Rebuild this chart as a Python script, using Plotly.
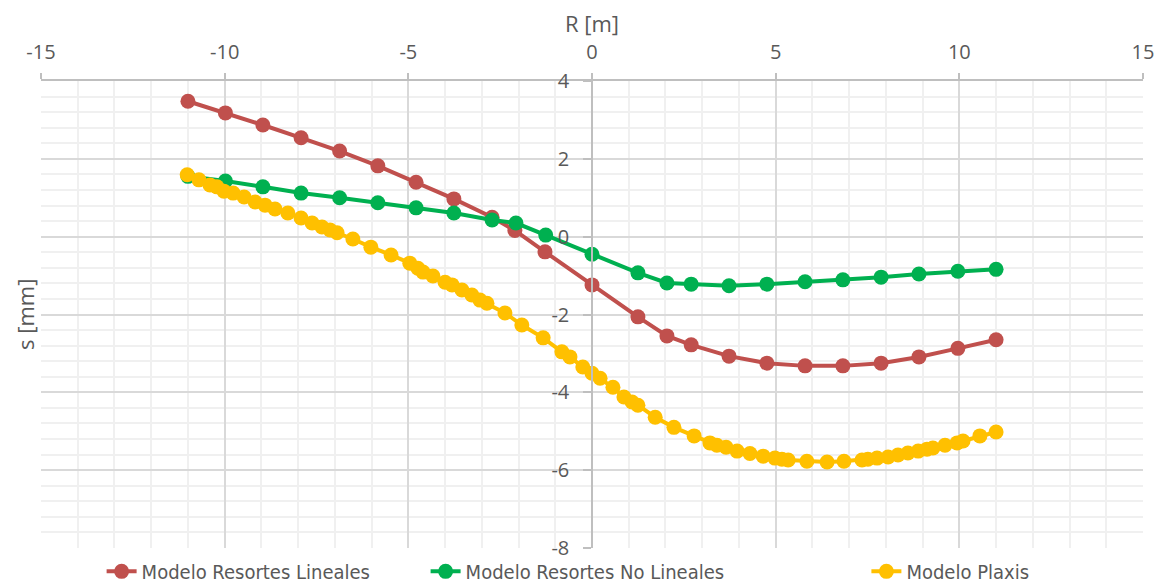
import plotly.graph_objects as go

# --- data ---
x_lin = [-11.0, -9.98, -8.96, -7.92, -6.87, -5.83, -4.79, -3.76, -2.72, -2.10, -1.28, 0.0,
         1.25, 2.04, 2.70, 3.73, 4.76, 5.80, 6.83, 7.87, 8.90, 9.96, 11.0]
y_lin = [3.48, 3.18, 2.87, 2.54, 2.20, 1.82, 1.40, 0.97, 0.50, 0.16, -0.39, -1.24,
         -2.06, -2.55, -2.78, -3.07, -3.25, -3.32, -3.32, -3.25, -3.09, -2.87, -2.65]

x_nolin = [-11.0, -9.98, -8.96, -7.92, -6.87, -5.83, -4.79, -3.76, -2.72, -2.07, -1.26, 0.0,
           1.25, 2.04, 2.70, 3.73, 4.76, 5.80, 6.83, 7.87, 8.90, 9.96, 11.0]
y_nolin = [1.55, 1.43, 1.28, 1.12, 1.00, 0.87, 0.74, 0.61, 0.43, 0.35, 0.04, -0.45,
           -0.93, -1.19, -1.22, -1.26, -1.22, -1.16, -1.11, -1.04, -0.96, -0.89, -0.84]

x_plaxis = [-11.02, -10.70, -10.40, -10.21, -10.02, -9.77, -9.47, -9.17, -8.90, -8.63, -8.28,
            -7.92, -7.62, -7.35, -7.13, -6.94, -6.51, -6.02, -5.47, -4.96, -4.74, -4.60, -4.33,
            -4.00, -3.81, -3.54, -3.27, -3.05, -2.86, -2.37, -1.91, -1.33, -0.82, -0.60, -0.25,
            0.00, 0.22, 0.57, 0.87, 1.09, 1.25, 1.72, 2.23, 2.78, 3.21, 3.40, 3.65, 3.95, 4.30,
            4.66, 4.98, 5.17, 5.34, 5.85, 6.40, 6.86, 7.35, 7.51, 7.76, 8.06, 8.33, 8.60, 8.88,
            9.12, 9.28, 9.61, 9.94, 10.10, 10.56, 11.0]
y_plaxis = [1.59, 1.46, 1.33, 1.28, 1.17, 1.12, 1.02, 0.89, 0.81, 0.71, 0.61,
            0.48, 0.35, 0.25, 0.17, 0.10, -0.06, -0.27, -0.47, -0.68, -0.81, -0.91, -1.01,
            -1.17, -1.24, -1.37, -1.50, -1.63, -1.71, -1.96, -2.27, -2.60, -2.96, -3.09, -3.35,
            -3.51, -3.64, -3.87, -4.12, -4.25, -4.33, -4.64, -4.90, -5.12, -5.30, -5.36, -5.41,
            -5.51, -5.57, -5.64, -5.69, -5.72, -5.74, -5.77, -5.79, -5.77, -5.74, -5.72, -5.69,
            -5.66, -5.61, -5.56, -5.51, -5.46, -5.43, -5.36, -5.30, -5.25, -5.12, -5.02]

x_tickvals = [-15, -10, -5, 0, 5, 10, 15]
x_ticktext = ["-15", "-10", "-5", "0", "5", "10", "15"]
y_tickvals = [4, 2, 0, -2, -4, -6, -8]
y_ticktext = ["4", "2", "0", "-2", "-4", "-6", "-8"]

names = ["Modelo Resortes Lineales", "Modelo Resortes No Lineales", "Modelo Plaxis"]
colors = ["#C0504D", "#00B050", "#FFC000"]

TICK_FONT = dict(family="Open Sans, Calibri, sans-serif", size=20, color="#595959")
LEG_FONT = dict(family="DejaVu Sans Condensed, sans-serif", size=20, color="#595959")

fig = go.Figure()
series = [(x_lin, y_lin), (x_nolin, y_nolin), (x_plaxis, y_plaxis)]
legends = ["legend", "legend2", "legend3"]
for (xs, ys), nm, c, lg in zip(series, names, colors, legends):
    fig.add_trace(go.Scatter(x=xs, y=ys, mode="lines+markers", name=nm,
                             line=dict(color=c, width=4),
                             marker=dict(color=c, size=15),
                             legend=lg))

leg_common = dict(orientation="h", yanchor="middle", y=-0.05, xanchor="left",
                  font=LEG_FONT, bgcolor="rgba(0,0,0,0)", borderwidth=0)

# page body has an 8px default margin; figure sized so the page is 1164x588
fig.update_layout(
    width=1156, height=580,
    margin=dict(l=33, r=21, t=73, b=40, autoexpand=False),
    paper_bgcolor="white", plot_bgcolor="white",
    showlegend=True,
    legend=dict(x=0.055, **leg_common),
    legend2=dict(x=0.349, **leg_common),
    legend3=dict(x=0.749, **leg_common),
    xaxis=dict(
        range=[-15, 15], side="top", tickmode="array",
        tickvals=x_tickvals, ticktext=x_ticktext,
        showgrid=True, gridcolor="#D9D9D9", gridwidth=1.5,
        minor=dict(dtick=1, tick0=0, showgrid=True, gridcolor="#F0F0F0", gridwidth=1.5),
        showline=True, linecolor="#BFBFBF", linewidth=1.5,
        ticks="outside", ticklen=6, tickcolor="#BFBFBF", tickwidth=1.5,
        ticklabelstandoff=6,
        zeroline=False, tickfont=TICK_FONT, automargin=False,
        title=dict(text="R [m]", font=dict(family="Open Sans, sans-serif", size=22, color="#595959"),
                   standoff=6),
    ),
    yaxis=dict(
        range=[-8, 4], tickmode="array",
        tickvals=y_tickvals, ticktext=y_ticktext,
        anchor="free", position=0.5,
        showgrid=True, gridcolor="#D9D9D9", gridwidth=1.5,
        minor=dict(dtick=0.4, tick0=0, showgrid=True, gridcolor="#F0F0F0", gridwidth=1.5),
        showline=True, linecolor="#BFBFBF", linewidth=1.5,
        ticks="outside", ticklen=8, tickcolor="#BFBFBF", tickwidth=1.5,
        ticklabelstandoff=10,
        zeroline=False, tickfont=TICK_FONT, automargin=False,
    ),
    annotations=[dict(text="s [mm]", xref="paper", yref="paper", x=-0.015, y=0.5,
                      xanchor="center", yanchor="middle", textangle=-90, showarrow=False,
                      font=dict(family="Open Sans, sans-serif", size=22, color="#595959"))],
)

fig.write_html("out.html")
